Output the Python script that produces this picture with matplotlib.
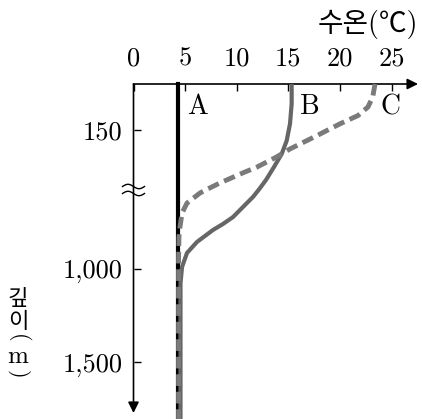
import matplotlib
matplotlib.use("Agg")
import matplotlib.pyplot as plt
import matplotlib.transforms as mtransforms
import numpy as np

plt.rcParams['font.family'] = ['cmr10', 'DejaVu Serif']
plt.rcParams['axes.formatter.use_mathtext'] = True

# 수온(°C) - 깊이(m) 데이터
depth_A = [0, 1803]
temp_A = [4.26, 4.26]

depth_B = [0, 65, 130, 185, 228, 271, 313, 342, 614, 668, 722, 759, 791, 855, 914, 989, 1075, 1803]
temp_B = [15.31, 15.31, 15.15, 14.83, 14.35, 13.60, 12.83, 12.20, 11.57, 10.60, 9.63, 8.66, 7.70,
          6.15, 5.18, 4.70, 4.55, 4.55]

depth_C = [0, 42, 75, 103, 130, 169, 212, 238, 271, 290, 323, 339, 593, 647, 700, 775, 829, 952, 1803]
temp_C = [23.38, 23.16, 22.70, 21.73, 19.99, 17.73, 15.15, 13.86, 11.96, 10.60, 8.37, 7.41, 6.44,
          5.18, 4.70, 4.50, 4.40, 4.36, 4.36]

x_ticks = [0, 5, 10, 15, 20, 25]
y_ticks = [150, 1000, 1500]
y_ticklabels = ['150', '1,000', '1,500']

# 축 끊김: 346 m ~ 577 m 구간 생략
brk_d = [0, 346, 577, 5000]
brk_t = [0, 106, 106.001, 106 + (5000 - 577) * 0.1868]


def fwd(d):
    return np.interp(d, brk_d, brk_t)


def inv(t):
    return np.interp(t, brk_t, brk_d)


fig = plt.figure(figsize=(4.22, 4.19), dpi=100)
ax = fig.add_axes([133.5 / 422, 1 - 413 / 419, 284.5 / 422, 329 / 419])
ax.set_yscale('function', functions=(fwd, inv))
ax.set_xlim(0, 284.5 / 10.33)
ax.set_ylim(1771, 0)

for s in ax.spines.values():
    s.set_visible(False)

ax.plot(temp_A, depth_A, color='black', lw=3, clip_on=False, zorder=3)
ax.plot(temp_B, depth_B, color='#666666', lw=3, clip_on=False, zorder=4,
        solid_capstyle='butt')
ax.plot(temp_C, depth_C, color='#7a7a7a', lw=3.5, ls=(0, (2.4, 1.2)),
        clip_on=False, zorder=5)

ax.text(5.2, 75, 'A', fontsize=20, ha='left', va='center')
ax.text(16.1, 75, 'B', fontsize=20, ha='left', va='center')
ax.text(23.9, 75, 'C', fontsize=20, ha='left', va='center')

# 축 화살표
ax.annotate('', xy=(1, 1), xytext=(0, 1), xycoords='axes fraction',
            arrowprops=dict(arrowstyle='-|>', color='black', lw=1.2,
                            mutation_scale=16, shrinkA=0, shrinkB=0))
ax.annotate('', xy=(0, 0), xytext=(0, 1), xycoords='axes fraction',
            arrowprops=dict(arrowstyle='-|>', color='black', lw=1.2,
                            mutation_scale=16, shrinkA=0, shrinkB=0))

ax.xaxis.tick_top()
ax.set_xticks(x_ticks)
ax.set_xticklabels([str(v) for v in x_ticks])
ax.set_yticks(y_ticks)
ax.set_yticklabels(y_ticklabels)
ax.tick_params(axis='x', direction='in', length=5, width=1, pad=10, labelsize=19)
ax.tick_params(axis='y', direction='in', length=5, width=1, pad=8, labelsize=19)

# 물결 표시 (축 끊김)
brk_frac = 1 - fwd(346) / 329
wave_tr = fig.dpi_scale_trans + mtransforms.ScaledTranslation(0, brk_frac, ax.transAxes)
wx = np.linspace(-0.11, 0.11, 60)
for off in (0.035, -0.035):
    ax.plot(wx, -0.022 * np.sin(2 * np.pi * wx / 0.22) + off, color='black', lw=1.0,
            transform=wave_tr, clip_on=False, zorder=6)

fig.text(418 / 422, 1 - 24 / 419, '수온(℃)', ha='right', va='center', fontsize=20,
         family=['cmr10', 'Noto Sans CJK KR'])

# 세로 축 이름: 깊이(m) - 세로쓰기
lx = 18 / 422
fig.text(lx, 1 - 310 / 419, '깊\n이', ha='center', va='center', multialignment='center',
         fontsize=16, linespacing=1.0, family=['Noto Sans CJK KR', 'DejaVu Sans'])
fig.text(lx, 1 - 338 / 419, '(', ha='center', va='center', fontsize=16, rotation=-90)
fig.text(lx, 1 - 356.5 / 419, 'm', ha='center', va='center', fontsize=18)
fig.text(lx, 1 - 374 / 419, ')', ha='center', va='center', fontsize=16, rotation=-90)

fig.savefig('out.png', dpi=100)
